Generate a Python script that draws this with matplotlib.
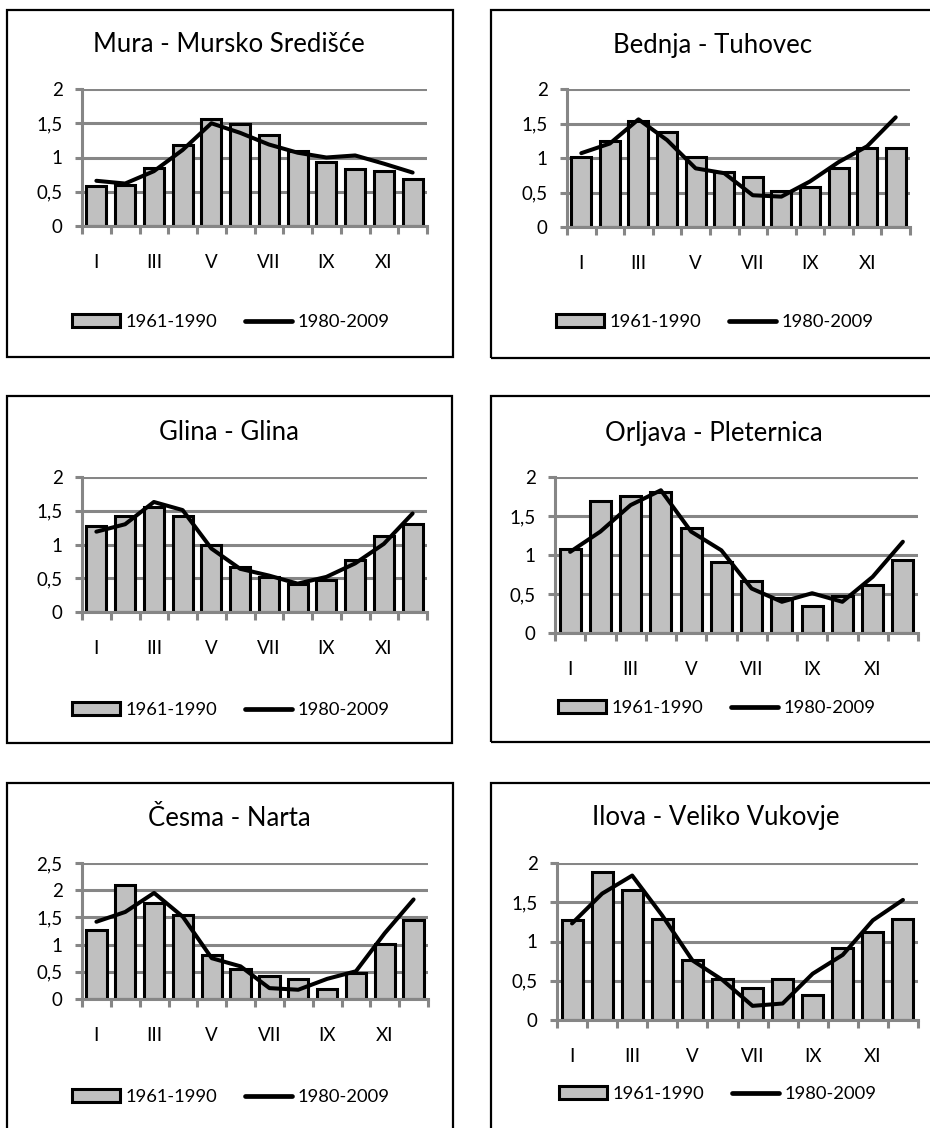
import matplotlib
matplotlib.use("Agg")
import matplotlib.pyplot as plt
from matplotlib.patches import Rectangle
from matplotlib.ticker import FuncFormatter
import numpy as np

plt.rcParams['font.family'] = ['Lato', 'DejaVu Sans']

# ---------------- data ----------------
months = ["I", "II", "III", "IV", "V", "VI", "VII", "VIII", "IX", "X", "XI", "XII"]
series_labels = ["1961-1990", "1980-2009"]

titles = ["Mura - Mursko Središće", "Bednja - Tuhovec", "Glina - Glina",
          "Orljava - Pleternica", "Česma - Narta", "Ilova - Veliko Vukovje"]

mura_6190 = [0.58, 0.60, 0.84, 1.18, 1.56, 1.49, 1.33, 1.09, 0.93, 0.83, 0.81, 0.69]
mura_8009 = [0.66, 0.62, 0.80, 1.11, 1.50, 1.36, 1.19, 1.07, 1.00, 1.03, 0.91, 0.78]

bednja_6190 = [1.02, 1.24, 1.54, 1.38, 1.01, 0.79, 0.73, 0.52, 0.58, 0.86, 1.14, 1.14]
bednja_8009 = [1.07, 1.21, 1.56, 1.26, 0.85, 0.78, 0.46, 0.44, 0.66, 0.94, 1.17, 1.59]

glina_6190 = [1.28, 1.42, 1.55, 1.42, 1.00, 0.66, 0.52, 0.42, 0.48, 0.77, 1.13, 1.31]
glina_8009 = [1.19, 1.30, 1.63, 1.51, 0.94, 0.64, 0.54, 0.42, 0.52, 0.72, 1.01, 1.46]

orljava_6190 = [1.08, 1.69, 1.76, 1.81, 1.34, 0.91, 0.67, 0.45, 0.34, 0.47, 0.61, 0.94]
orljava_8009 = [1.04, 1.30, 1.64, 1.83, 1.30, 1.06, 0.57, 0.40, 0.51, 0.40, 0.72, 1.17]

cesma_6190 = [1.26, 2.09, 1.76, 1.54, 0.81, 0.55, 0.43, 0.37, 0.18, 0.48, 1.01, 1.45]
cesma_8009 = [1.42, 1.60, 1.95, 1.51, 0.75, 0.60, 0.20, 0.17, 0.37, 0.51, 1.21, 1.83]

ilova_6190 = [1.28, 1.89, 1.65, 1.29, 0.76, 0.52, 0.41, 0.52, 0.32, 0.92, 1.12, 1.29]
ilova_8009 = [1.23, 1.61, 1.84, 1.33, 0.76, 0.51, 0.18, 0.21, 0.59, 0.83, 1.27, 1.53]

y_max = [2, 2, 2, 2, 2.5, 2]

bars_all = [mura_6190, bednja_6190, glina_6190, orljava_6190, cesma_6190, ilova_6190]
lines_all = [mura_8009, bednja_8009, glina_8009, orljava_8009, cesma_8009, ilova_8009]

# ---------------- layout (pixels) ----------------
W, H = 930, 1128
fig = plt.figure(figsize=(W / 100, H / 100), dpi=100)

# plot area: x0, x1, y_top(value = ymax), y_bottom(value = 0)
plot_px = [(82, 427, 89, 226), (567, 910, 89, 227),
           (82, 427, 477, 612), (555, 918, 477, 633),
           (82, 428, 863, 999), (557, 918, 863, 1020)]
# panel borders: x0, y0, x1, y1
border_px = [(7, 10, 453, 357), (491, 10, 945, 358),
             (7, 396, 452, 743), (491, 396, 945, 742),
             (7, 783, 453, 1140), (491, 783, 945, 1140)]
title_px = [(229, 45), (713, 45), (229, 432), (714, 433), (229, 818), (716, 818)]
legend_px = [(231, 322), (715, 322), (231, 710), (717, 708), (231, 1097), (718, 1094)]

GRID = "#868686"
BAR = "#c0c0c0"

for (bx0, by0, bx1, by1) in border_px:
    fig.patches.append(Rectangle((bx0 / W, 1 - by1 / H), (bx1 - bx0) / W, (by1 - by0) / H,
                                 transform=fig.transFigure, fill=False,
                                 edgecolor="black", linewidth=1.6, zorder=0))

comma = FuncFormatter(lambda v, p: ("%g" % v).replace(".", ","))
x = np.arange(1, 13)

for i in range(6):
    x0, x1, yt, yb = plot_px[i]
    ax = fig.add_axes([x0 / W, 1 - yb / H, (x1 - x0) / W, (yb - yt) / H])
    ax.set_xlim(0.5, 12.5)
    ax.set_ylim(0, y_max[i])
    ax.set_yticks(np.arange(0, y_max[i] + 0.01, 0.5))
    ax.yaxis.set_major_formatter(comma)
    ax.grid(axis="y", color=GRID, linewidth=2.2, zorder=0)
    ax.set_axisbelow(True)
    for s in ["top", "right"]:
        ax.spines[s].set_visible(False)
    for s in ["left", "bottom"]:
        ax.spines[s].set_color(GRID)
        ax.spines[s].set_linewidth(2.2)
    ax.tick_params(axis="y", direction="out", length=5, width=2.2, color=GRID,
                   labelsize=13.5, pad=9)
    # x: boundary ticks (major) and labels on odd months (minor)
    ax.set_xticks(np.arange(0.5, 13, 1.0))
    ax.set_xticklabels([])
    ax.tick_params(axis="x", which="major", direction="out", length=6, width=2.2, color=GRID)
    ax.set_xticks(x[::2], minor=True)
    ax.set_xticklabels(months[::2], minor=True)
    ax.tick_params(axis="x", which="minor", length=0, labelsize=13.5, pad=20)

    b = ax.bar(x, bars_all[i], width=0.70, color=BAR, edgecolor="black",
               linewidth=2.2, zorder=2, label=series_labels[0])
    l, = ax.plot(x, lines_all[i], color="black", linewidth=2.9, zorder=3,
                 solid_capstyle="round", solid_joinstyle="round", label=series_labels[1])

    tx, ty = title_px[i]
    fig.text(tx / W, 1 - ty / H, titles[i], ha="center", va="center", fontsize=18.5)

    lx, ly = legend_px[i]
    leg = ax.legend([b, l], series_labels, loc="center", bbox_to_anchor=(lx / W, 1 - ly / H),
                    bbox_transform=fig.transFigure, ncol=2, frameon=False, fontsize=13.2,
                    handlelength=2.6, handletextpad=0.3, columnspacing=1.5, borderpad=0)
    leg.get_lines()[0].set_linewidth(3.4)

fig.savefig("out.png", dpi=100, facecolor="white")
